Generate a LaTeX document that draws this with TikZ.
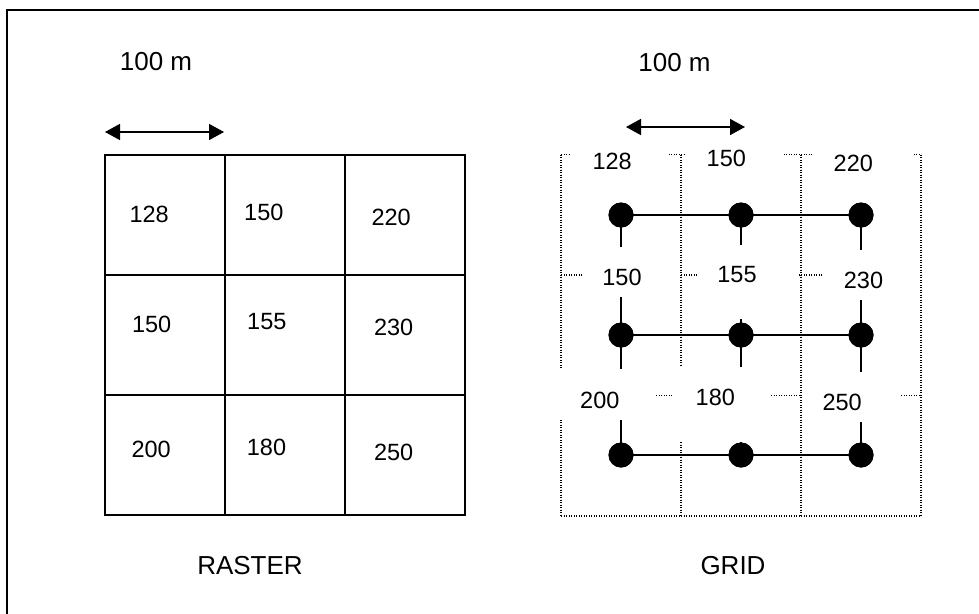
\documentclass[tikz,border=0pt]{standalone}
\usepackage{fontspec}
\setmainfont{Liberation Sans}
\usetikzlibrary{arrows.meta}
\begin{document}
\begin{tikzpicture}[x=1pt,y=-1pt,
  lab/.style={font=\fontsize{26}{30}\selectfont, inner sep=0pt},
  num/.style={font=\fontsize{23.5}{27}\selectfont, inner sep=0pt},
  solidln/.style={line width=1.6pt},
  dotline/.style={line width=1.3pt, dash pattern=on 1.2pt off 1.3pt},
  maskbox/.style={fill=white},
  gdot/.style={circle, fill=black, minimum size=25pt, inner sep=0pt},
  dimarrow/.style={line width=1.6pt, {Triangle[length=15pt,width=16pt]}-{Triangle[length=15pt,width=16pt]}}]
\clip (0,0) rectangle (979,613);
\useasboundingbox (0,0) rectangle (979,613);
\fill[white] (0,0) rectangle (979,613);
% outer frame (right and bottom edges fall outside the picture)
\draw[line width=1.8pt] (7,10) rectangle (995,630);

% ---------- RASTER ----------
\foreach \x in {105,225,345,465} \draw[solidln, line cap=rect] (\x,155) -- (\x,515);
\foreach \y in {155,275,395,515} \draw[solidln, line cap=rect] (105,\y) -- (465,\y);

\node[num] (r11) at (149.2,214.7) {128};
\node[num] (r12) at (263.8,212.5) {150};
\node[num] (r13) at (391.2,217.8) {220};
\node[num] (r21) at (151.7,324.7) {150};
\node[num] (r22) at (266.8,322.0) {155};
\node[num] (r23) at (393.7,327.8) {230};
\node[num] (r31) at (151.2,449.5) {200};
\node[num] (r32) at (266.5,447.2) {180};
\node[num] (r33) at (393.7,452.2) {250};

\node[lab] (scaleA) at (156,62) {100 m};
\coordinate (aL) at (105,132);
\coordinate (aR) at (224,132);
\draw[dimarrow] (aL) -- (aR);
\node[lab] (raster) at (250,565.5) {RASTER};

% ---------- GRID ----------
\foreach \x in {561,681,801,921} \draw[dotline] (\x,154.5) -- (\x,516);
\foreach \y in {154.5,275,395.5,516} \draw[dotline] (561,\y) -- (921,\y);

\node[gdot] (d11) at (621,215) {};
\node[gdot] (d12) at (741,215) {};
\node[gdot] (d13) at (861,215) {};
\node[gdot] (d21) at (621,335) {};
\node[gdot] (d22) at (741,335) {};
\node[gdot] (d23) at (861,335) {};
\node[gdot] (d31) at (621,455) {};
\node[gdot] (d32) at (741,455) {};
\node[gdot] (d33) at (861,455) {};

\draw[solidln] (d11.center) -- (d13.center);
\draw[solidln] (d21.center) -- (d23.center);
\draw[solidln] (d31.center) -- (d33.center);
\draw[solidln] (d11.center) -- (d31.center);
\draw[solidln] (d12.center) -- (d32.center);
\draw[solidln] (d13.center) -- (d33.center);

% white label boxes covering the lines
\fill[maskbox] (571,138) rectangle (669,192);
\fill[maskbox] (686,138) rectangle (782,192);
\fill[maskbox] (814,138) rectangle (912,192);
\fill[maskbox] (582,247) rectangle (679.5,297);
\fill[maskbox] (697,245) rectangle (797,319);
\fill[maskbox] (822,250) rectangle (919.5,300);
\fill[maskbox] (553,369) rectangle (656,420);
\fill[maskbox] (673,367) rectangle (771,442);
\fill[maskbox] (801.8,372) rectangle (900,422);

% redraw dots above the boxes
\foreach \n in {d11,d12,d13,d21,d22,d23,d31,d32,d33} \fill (\n) circle (12.5);

\node[num] (g11) at (612.2,161.3) {128};
\node[num] (g12) at (726.3,158.0) {150};
\node[num] (g13) at (853.3,163.3) {220};
\node[num] (g21) at (622.0,277.0) {150};
\node[num] (g22) at (737.0,274.2) {155};
\node[num] (g23) at (863.5,280.8) {230};
\node[num] (g31) at (599.8,400.0) {200};
\node[num] (g32) at (715.3,397.0) {180};
\node[num] (g33) at (842.2,402.5) {250};

\node[lab] (scaleB) at (674.5,63) {100 m};
\coordinate (bL) at (626,127);
\coordinate (bR) at (745,127);
\draw[dimarrow] (bL) -- (bR);
\node[lab] (gridlab) at (733,565.5) {GRID};
\end{tikzpicture}
\end{document}
